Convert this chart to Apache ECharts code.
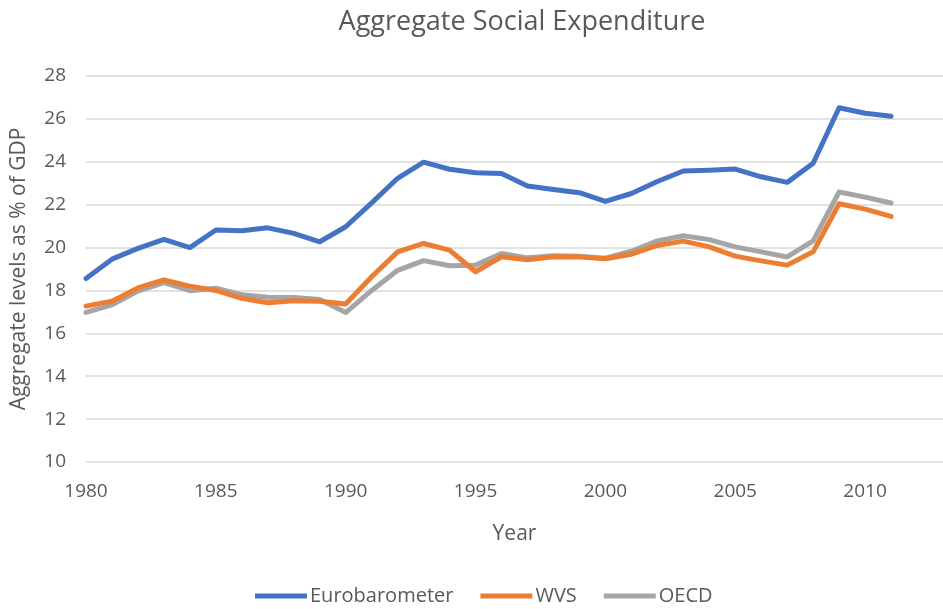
<!DOCTYPE html>
<html>
<head>
<meta charset="utf-8">
<script src="https://cdn.jsdelivr.net/npm/echarts@6/dist/echarts.min.js"></script>
<style>
  html, body { margin: 0; padding: 0; background: #fff; }
  #chart { width: 943px; height: 609px; }
</style>
</head>
<body>
<div id="chart"></div>
<script>
  // years 1980 - 2011
  const years = [1980, 1981, 1982, 1983, 1984, 1985, 1986, 1987, 1988, 1989,
    1990, 1991, 1992, 1993, 1994, 1995, 1996, 1997, 1998, 1999,
    2000, 2001, 2002, 2003, 2004, 2005, 2006, 2007, 2008, 2009, 2010, 2011]

  const eurobarometer = [18.56, 19.46, 19.96, 20.38, 20.0, 20.82, 20.78, 20.92, 20.66, 20.27,
    20.97, 22.08, 23.23, 23.98, 23.65, 23.49, 23.45, 22.87, 22.71, 22.56,
    22.15, 22.52, 23.08, 23.57, 23.61, 23.66, 23.3, 23.04, 23.93, 26.52, 26.26, 26.12]

  const wvs = [17.27, 17.5, 18.12, 18.49, 18.2, 18.0, 17.63, 17.43, 17.52, 17.5,
    17.37, 18.64, 19.8, 20.19, 19.88, 18.87, 19.57, 19.43, 19.57, 19.56,
    19.48, 19.69, 20.1, 20.3, 20.03, 19.6, 19.38, 19.18, 19.8, 22.04, 21.79, 21.45]

  const oecd = [16.98, 17.33, 17.97, 18.36, 17.99, 18.1, 17.8, 17.68, 17.67, 17.58,
    16.97, 18.0, 18.94, 19.39, 19.15, 19.18, 19.72, 19.52, 19.62, 19.6,
    19.5, 19.83, 20.31, 20.55, 20.37, 20.03, 19.8, 19.56, 20.31, 22.59, 22.35, 22.08]

  const seriesNames = ['Eurobarometer', 'WVS', 'OECD']
  const colorList = ['#4472C4', '#ED7D31', '#A5A5A5']
  const textColor = '#595959'
  const fontName = 'Open Sans'

  const chart = echarts.init(document.getElementById('chart'))

  function pairs(values) {
    return years.map((y, i) => [y, values[i]])
  }

  function makeSeries(name, values, idx) {
    return {
      name: name,
      type: 'line',
      data: pairs(values),
      showSymbol: false,
      symbol: 'none',
      z: 10 - idx,
      lineStyle: {
        width: 5,
        color: colorList[idx],
        cap: 'round',
        join: 'round'
      },
      itemStyle: { color: colorList[idx] }
    }
  }

  chart.setOption({
    animation: false,
    title: {
      text: 'Aggregate Social Expenditure',
      left: 517,
      textAlign: 'center',
      top: 4,
      textStyle: {
        color: textColor,
        fontFamily: fontName,
        fontWeight: 'normal',
        fontSize: 27
      }
    },
    legend: {
      bottom: -2,
      left: 250,
      icon: 'rect',
      itemWidth: 52,
      itemHeight: 5,
      itemGap: 27,
      data: seriesNames,
      textStyle: {
        color: textColor,
        fontFamily: fontName,
        fontSize: 20,
        padding: [0, 0, 0, -2]
      }
    },
    grid: {
      left: 86,
      right: 0,
      top: 76,
      bottom: 147
    },
    xAxis: {
      type: 'value',
      min: 1980,
      max: 2013,
      interval: 5,
      name: 'Year',
      nameLocation: 'middle',
      nameGap: 62,
      nameTextStyle: {
        color: textColor,
        fontFamily: fontName,
        fontSize: 21
      },
      axisLine: { show: false },
      axisTick: { show: false },
      splitLine: { show: false },
      axisLabel: {
        color: textColor,
        fontFamily: fontName,
        fontSize: 19,
        margin: 20,
        showMaxLabel: false,
        formatter: function (v) { return String(v) }
      }
    },
    yAxis: {
      type: 'value',
      min: 10,
      max: 28,
      interval: 2,
      name: 'Aggregate levels as % of GDP',
      nameLocation: 'middle',
      nameGap: 56,
      nameTextStyle: {
        color: textColor,
        fontFamily: fontName,
        fontSize: 21
      },
      axisLine: { show: false },
      axisTick: { show: false },
      splitLine: {
        lineStyle: { color: '#D9D9D9', width: 1.5 }
      },
      axisLabel: {
        color: textColor,
        fontFamily: fontName,
        fontSize: 19,
        margin: 20
      }
    },
    series: [
      makeSeries(seriesNames[0], eurobarometer, 0),
      makeSeries(seriesNames[1], wvs, 1),
      makeSeries(seriesNames[2], oecd, 2)
    ]
  })
</script>
</body>
</html>
